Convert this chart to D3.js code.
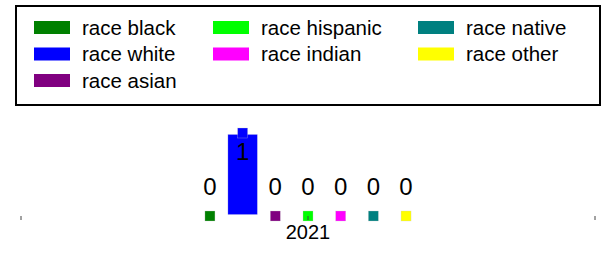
<!DOCTYPE html>
<html>
<head>
<meta charset="utf-8">
<script src="https://cdn.jsdelivr.net/npm/d3@7"></script>
<style>
  body { margin: 0; background: #fff; }
  text { font-family: "Liberation Sans", Arial, sans-serif; fill: #000; }
</style>
</head>
<body>
<div id="chart"></div>
<script>

var years = ["2021"];
var races = ["race black", "race white", "race asian", "race hispanic", "race indian", "race native", "race other"];
var counts = [0, 1, 0, 0, 0, 0, 0];
var palette = ["#008000", "#0000ff", "#800080", "#00ff00", "#ff00ff", "#008080", "#ffff00"];

var width = 603, height = 254;

var svg = d3.select("#chart")
  .append("svg")
    .attr("width", width)
    .attr("height", height);

var color = d3.scaleOrdinal()
  .domain(races)
  .range(palette);

// legend box, 3 columns filled top to bottom, items spread evenly (3,2,2)
function legend(svg)
{
  var colX = [34, 213, 418];
  var rowH = 26.5;
  var ncol = colX.length;
  var base = Math.floor(races.length / ncol), extra = races.length % ncol;

  var cells = [];
  var k = 0;
  for (let c = 0; c < ncol; c++) {
    let n = base + (c < extra ? 1 : 0);
    for (let r = 0; r < n; r++) {
      cells.push({race: races[k], col: c, row: r});
      k++;
    }
  }

  svg.append("rect")
    .attr("x", 16)
    .attr("y", 6)
    .attr("width", 584)
    .attr("height", 99)
    .style("fill", "white")
    .style("stroke", "#000")
    .style("stroke-width", 2);

  var item = svg.append("g")
    .selectAll("g")
    .data(cells)
    .enter()
    .append("g")
      .attr("transform", function(d) {
        return "translate(" + colX[d.col] + "," + (21 + d.row * rowH) + ")";
      });

  item.append("rect")
    .attr("width", 36)
    .attr("height", 13)
    .style("fill", function(d) { return color(d.race); });

  item.append("text")
    .attr("x", 48)
    .attr("y", 13.5)
    .style("font-size", "20.5px")
    .text(function(d) { return d.race; });
}

legend(svg);

var x0 = d3.scaleBand()
  .domain(years)
  .range([21, 595])
  .padding(0.43);

var x1 = d3.scaleBand()
  .domain(races)
  .range([0, x0.bandwidth()])
  .paddingInner(0.1)
  .paddingOuter(0.05);

var y = d3.scaleLinear()
  .domain([0, 1])
  .range([216, 133]);

var rows = races.map(function(r, i) { return {year: years[0], race: r, value: counts[i]}; });

var g = svg.append("g");

var bar = g.selectAll(".bar")
  .data(rows)
  .enter()
  .append("g")
    .attr("class", "bar")
    .attr("transform", function(d) { return "translate(" + (x0(d.year) + x1(d.race)) + ",0)"; });

bar.append("rect")
  .attr("x", 0)
  .attr("y", function(d) { return y(d.value) + 1.5; })
  .attr("width", x1.bandwidth())
  .attr("height", function(d) { return Math.max(0, y(0) - y(d.value) - 3); })
  .style("fill", function(d) { return color(d.race); })
  .style("stroke", "#ccd")
  .style("stroke-opacity", 0.5)
  .style("stroke-width", 0.5);

// square marker on the value
bar.append("rect")
  .attr("x", x1.bandwidth() / 2 - 5)
  .attr("y", function(d) { return y(d.value) - 5; })
  .attr("width", 10)
  .attr("height", 10)
  .style("fill", function(d) { return color(d.race); })
  .style("stroke", "#ccc")
  .style("stroke-opacity", 0.6)
  .style("stroke-width", 0.5);

// value labels: inside the bar if there is room, else above the baseline
bar.append("text")
  .attr("x", x1.bandwidth() / 2)
  .attr("y", function(d) {
    if (y(0) - y(d.value) > 40) return y(d.value) + 27;
    else return y(0) - 21;
  })
  .attr("text-anchor", "middle")
  .style("font-size", "24px")
  .text(function(d) { return d.value; });

// x axis: only ticks, no line
var axis = svg.append("g")
  .attr("transform", "translate(0," + y(0) + ")")
  .call(d3.axisBottom(x0).tickSize(4).tickSizeOuter(0).tickPadding(5));

axis.select(".domain").remove();
axis.selectAll(".tick line").attr("stroke", "#444");
axis.selectAll(".tick text")
  .style("font-size", "20px")
  .style("font-family", "'Liberation Sans', Arial, sans-serif")
  .attr("fill", "#000");

axis.selectAll(".endtick")
  .data(x0.range())
  .enter()
  .append("line")
    .attr("class", "endtick")
    .attr("x1", function(d) { return d; })
    .attr("x2", function(d) { return d; })
    .attr("y1", 0)
    .attr("y2", 4)
    .attr("stroke", "#444");

</script>
</body>
</html>
